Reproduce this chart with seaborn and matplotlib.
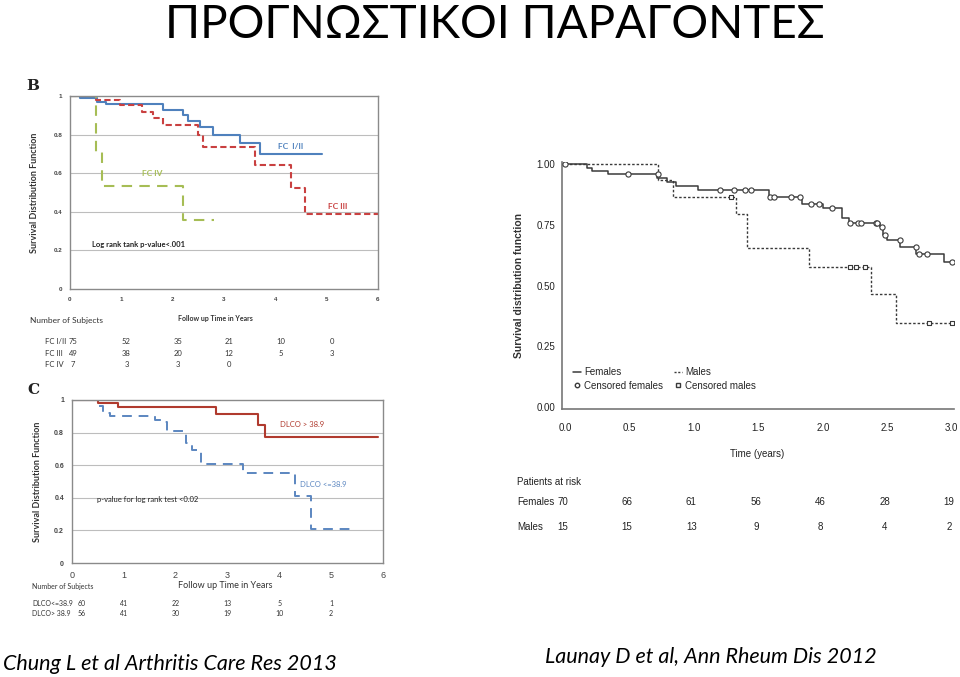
import numpy as np
import pandas as pd
import matplotlib
matplotlib.use("Agg")
import matplotlib.pyplot as plt
import matplotlib.transforms as mtransforms
from matplotlib.lines import Line2D
import seaborn as sns

# ---------------- data ----------------
title_text = "ΠΡΟΓΝΩΣΤΙΚΟΙ ΠΑΡΑΓΟΝΤΕΣ"
caption_left = "Chung L et al Arthritis Care Res 2013"
caption_right = "Launay D et al, Ann Rheum Dis 2012"

# Panel B (functional class)
b_fc12_t = [0, 0.2, 0.52, 0.71, 1.82, 2.2, 2.3, 2.53, 2.79, 3.31, 3.7, 4.9]
b_fc12_s = [1, 0.99, 0.97, 0.957, 0.928, 0.903, 0.871, 0.841, 0.798, 0.759, 0.697, 0.697]
b_fc3_t = [0, 0.5, 0.97, 1.4, 1.62, 1.82, 2.5, 2.6, 3.6, 4.3, 4.58, 6.0]
b_fc3_s = [1, 0.98, 0.955, 0.919, 0.884, 0.85, 0.80, 0.738, 0.643, 0.522, 0.39, 0.39]
b_fc4_t = [0, 0.5, 0.62, 2.2, 2.8]
b_fc4_s = [1, 0.71, 0.535, 0.357, 0.357]
b_groups = ["FC I/II", "FC III", "FC IV"]
b_risk_times = [0, 1, 2, 3, 4, 5]
b_risk = [[75, 52, 35, 21, 10, 0], [49, 38, 20, 12, 5, 3], [7, 3, 3, 0]]
b_yticks = [0, 0.2, 0.4, 0.6, 0.8, 1]
b_yticklabels = ["0", "0.2", "0.4", "0.6", "0.8", "1"]
b_xticks = [0, 1, 2, 3, 4, 5, 6]

# Panel C (DLCO)
c_hi_t = [0, 0.51, 0.9, 2.79, 3.59, 3.72, 5.9]
c_hi_s = [1, 0.98, 0.955, 0.914, 0.846, 0.775, 0.775]
c_lo_t = [0, 0.51, 0.61, 0.74, 1.6, 1.77, 1.83, 2.21, 2.31, 2.5, 3.3, 4.3, 4.62, 5.46]
c_lo_s = [1, 0.965, 0.92, 0.9, 0.877, 0.865, 0.81, 0.734, 0.693, 0.607, 0.553, 0.412, 0.207, 0.207]
c_groups = ["DLCO<=38.9", "DLCO> 38.9"]
c_risk_times = [0, 1, 2, 3, 4, 5]
c_risk = [[60, 41, 22, 13, 5, 1], [56, 41, 30, 19, 10, 2]]

# Right panel (sex)
r_f_t = [0, 0.168, 0.207, 0.336, 0.711, 0.79, 0.86, 1.03, 1.58, 1.84, 2.0, 2.15, 2.2, 2.44, 2.47,
         2.5, 2.6, 2.72, 2.94, 3.0]
r_f_s = [1, 0.986, 0.972, 0.959, 0.945, 0.926, 0.912, 0.895, 0.867, 0.836, 0.82, 0.78, 0.758, 0.74,
         0.708, 0.688, 0.66, 0.632, 0.598, 0.598]
r_m_t = [0, 0.724, 0.84, 1.33, 1.41, 1.89, 2.37, 2.57, 3.0]
r_m_s = [1, 0.935, 0.867, 0.794, 0.653, 0.578, 0.465, 0.344, 0.344]
r_fc_t = [0.0, 0.49, 0.72, 1.2, 1.31, 1.4, 1.44, 1.59, 1.62, 1.75, 1.82, 1.91, 1.97, 2.07, 2.21,
          2.27, 2.3, 2.41, 2.42, 2.46, 2.48, 2.6, 2.72, 2.75, 2.81, 3.0]
r_fc_s = [1.0, 0.959, 0.959, 0.895, 0.895, 0.895, 0.895, 0.867, 0.867, 0.867, 0.867, 0.836, 0.836,
          0.82, 0.758, 0.758, 0.758, 0.758, 0.758, 0.74, 0.708, 0.688, 0.66, 0.632, 0.632, 0.598]
r_mc_t = [1.29, 2.21, 2.26, 2.33, 2.82, 3.0]
r_mc_s = [0.867, 0.578, 0.578, 0.578, 0.344, 0.344]
r_groups = ["Females", "Males"]
r_risk_times = [0, 0.5, 1.0, 1.5, 2.0, 2.5, 3.0]
r_risk = [[70, 66, 61, 56, 46, 28, 19], [15, 15, 13, 9, 8, 4, 2]]
r_yticks = [0, 0.25, 0.5, 0.75, 1.0]
r_yticklabels = ["0.00", "0.25", "0.50", "0.75", "1.00"]
r_xticks = [0, 0.5, 1.0, 1.5, 2.0, 2.5, 3.0]

# ---------------- figure ----------------
sns.set_theme(style="white")
plt.rcParams["font.family"] = ["Lato", "DejaVu Sans"]

W, H = 960, 677
fig = plt.figure(figsize=(W / 100, H / 100), dpi=100)
fig.patch.set_facecolor("white")


def fx(x):
    return x / W


def fy(y):
    return 1 - y / H


def axes_px(l, t, r, b):
    return fig.add_axes([l / W, 1 - b / H, (r - l) / W, (b - t) / H])


def km(ax, t, s, **kw):
    df = pd.DataFrame({"t": t, "s": s})
    sns.lineplot(data=df, x="t", y="s", drawstyle="steps-post", estimator=None,
                 sort=False, legend=False, ax=ax, **kw)


BLUE = "#4f81bd"
RED = "#c94040"
GREEN = "#a6bd55"
DLRED = "#b03a2e"
DLBLUE = "#5b86c0"
FRAME = "#8a8a8a"
SMALL = ["Liberation Sans", "DejaVu Sans"]


def excel_axes(ax, xtick_size, ytick_size, xbold=True):
    ax.set_xlim(0, 6)
    ax.set_ylim(0, 1)
    ax.set_yticks(b_yticks)
    ax.set_yticklabels(b_yticklabels)
    ax.set_xticks(b_xticks)
    ax.set_xlabel("")
    ax.set_ylabel("")
    for y in b_yticks[1:-1]:
        ax.axhline(y, color="#bdbdbd", lw=0.8, zorder=0)
    for sp in ax.spines.values():
        sp.set_color(FRAME)
        sp.set_linewidth(1.0)
    ax.tick_params(axis="both", direction="out", length=2.5, width=0.6, color=FRAME,
                   pad=3, labelcolor="#444444")
    ax.tick_params(axis="x", labelsize=xtick_size)
    ax.tick_params(axis="y", labelsize=ytick_size)
    for lab in ax.get_yticklabels():
        lab.set_fontweight("bold")
        lab.set_family(SMALL)
    for lab in ax.get_xticklabels():
        lab.set_fontweight("bold" if xbold else "normal")
        lab.set_family(SMALL)


# ---------- Panel B ----------
axB = axes_px(70, 96, 378, 289)
km(axB, b_fc12_t, b_fc12_s, color=BLUE, linewidth=1.5)
km(axB, b_fc3_t, b_fc3_s, color=RED, linewidth=1.5, linestyle=(0, (3, 1.6)))
km(axB, b_fc4_t, b_fc4_s, color=GREEN, linewidth=1.5, linestyle=(0, (5, 3.5)))
excel_axes(axB, 4.5, 4.5)
axB.text(4.06, 0.738, "FC  I/II", color=BLUE, fontsize=6, fontweight="bold", va="center")
axB.text(1.4, 0.597, "FC IV", color=GREEN, fontsize=6, fontweight="bold", va="center")
axB.text(5.03, 0.428, "FC III", color=RED, fontsize=6, fontweight="bold", va="center")
axB.text(0.42, 0.229, "Log rank tank p-value<.001", color="#222222", fontsize=5.5,
         fontweight="bold", va="center")
axB.set_ylabel("Survival Distribution Function", fontsize=6.5, fontweight="bold", color="#333333")
axB.yaxis.set_label_coords(-31 / 308, 0.5)
fig.text(fx(26), fy(86), "B", fontsize=11, fontweight="bold", family="DejaVu Serif",
         va="center", ha="left", color="#222222")
fig.text(fx(215), fy(318), "Follow up Time in Years", fontsize=5, fontweight="bold",
         color="#333333", ha="center", va="center")
fig.text(fx(30), fy(320), "Number of Subjects", fontsize=6, color="#333333",
         ha="left", va="center")
trB = mtransforms.blended_transform_factory(axB.transData, fig.transFigure)
b_rows_y = [341.7, 353.3, 364.3]
for g, row, yy in zip(b_groups, b_risk, b_rows_y):
    fig.text(fx(45), fy(yy), g, fontsize=5.5, color="#333333", ha="left", va="center")
    for t, v in zip(b_risk_times, row):
        axB.text(t + (0.06 if t == 0 else 0.1), fy(yy), str(v), transform=trB, fontsize=5.5,
                 color="#333333", ha="center", va="center", clip_on=False)

# ---------- Panel C ----------
axC = axes_px(71.7, 400, 383, 563)
km(axC, c_hi_t, c_hi_s, color=DLRED, linewidth=1.5)
km(axC, c_lo_t, c_lo_s, color=DLBLUE, linewidth=1.4, linestyle=(0, (5, 3.5)))
excel_axes(axC, 6.5, 5, xbold=False)
axC.text(4.01, 0.847, "DLCO > 38.9", color=DLRED, fontsize=5.5, va="center")
axC.text(4.4, 0.479, "DLCO <=38.9", color=DLBLUE, fontsize=5.5, va="center")
axC.text(0.48, 0.389, "p-value for log rank test <0.02", color="#222222", fontsize=5.5,
         va="center")
axC.set_ylabel("Survival Distribution Function", fontsize=6.5, fontweight="bold", color="#333333")
axC.yaxis.set_label_coords(-30 / 311, 0.5)
fig.text(fx(27), fy(390), "C", fontsize=11, fontweight="bold", family="DejaVu Serif",
         va="center", ha="left", color="#222222")
fig.text(fx(225), fy(585), "Follow up Time in Years", fontsize=6.5, color="#333333",
         ha="center", va="center")
fig.text(fx(32), fy(586), "Number of Subjects", fontsize=5, color="#333333",
         ha="left", va="center")
trC = mtransforms.blended_transform_factory(axC.transData, fig.transFigure)
c_rows_y = [603.3, 613.3]
for g, row, yy in zip(c_groups, c_risk, c_rows_y):
    fig.text(fx(32), fy(yy), g, fontsize=5, color="#333333", ha="left", va="center")
    for t, v in zip(c_risk_times, row):
        axC.text(t + (0.19 if t == 0 else 0.0), fy(yy), str(v), transform=trC, fontsize=5,
                 color="#333333", ha="center", va="center", clip_on=False)

# ---------- Right panel ----------
NARROW = ["Liberation Sans Narrow", "Liberation Sans", "DejaVu Sans"]
RFS = 7
DARK = "#3a3a3a"
axR = axes_px(562.4, 161.9, 954.3, 409.1)
km(axR, r_f_t, r_f_s, color=DARK, linewidth=1.1)
km(axR, r_m_t, r_m_s, color=DARK, linewidth=1.0, linestyle=(0, (1.8, 1.4)))
sns.scatterplot(x=r_fc_t, y=r_fc_s, marker="o", s=14, facecolor="white", edgecolor=DARK,
                linewidth=0.8, ax=axR, zorder=5, legend=False)
sns.scatterplot(x=r_mc_t, y=r_mc_s, marker="s", s=12, facecolor="white", edgecolor=DARK,
                linewidth=0.8, ax=axR, zorder=5, legend=False)
axR.set_xlim(-0.02, 3.02)
axR.set_ylim(-0.01, 1.01)
axR.set_xticks(r_xticks)
axR.set_xticklabels([f"{v:.1f}" for v in r_xticks])
axR.set_yticks(r_yticks)
axR.set_yticklabels(r_yticklabels)
axR.set_xlabel("")
axR.set_ylabel("")
for k in ["top", "right"]:
    axR.spines[k].set_visible(False)
for k in ["left", "bottom"]:
    axR.spines[k].set_color("#777777")
    axR.spines[k].set_linewidth(1.2)
axR.tick_params(axis="both", direction="out", length=3, width=0.8, color="#777777",
                labelsize=RFS, labelcolor="#222222", pad=2)
axR.tick_params(axis="x", pad=7)
for lab in axR.get_xticklabels() + axR.get_yticklabels():
    lab.set_family(NARROW)
axR.set_ylabel("Survival distribution function", fontsize=7.5, fontweight="bold",
               color="#333333", family=NARROW)
axR.yaxis.set_label_coords(-38 / 392, 0.5)
handles = [Line2D([], [], color=DARK, lw=1.1),
           Line2D([], [], color="none", marker="o", markersize=3.2, markerfacecolor="white",
                  markeredgecolor=DARK),
           Line2D([], [], color=DARK, lw=1.0, ls=(0, (1.5, 1.2))),
           Line2D([], [], color="none", marker="s", markersize=3.0, markerfacecolor="white",
                  markeredgecolor=DARK)]
labels = ["Females", "Censored females", "Males", "Censored males"]
leg = axR.legend(handles, labels, ncol=2, loc="lower left", bbox_to_anchor=(0.027, 0.075),
                 borderaxespad=0, borderpad=0, frameon=False, handlelength=0.8,
                 handletextpad=0.35, columnspacing=1.1, labelspacing=0.35,
                 prop={"family": NARROW, "size": RFS})
fig.text(fx(757), fy(454), "Time (years)", fontsize=RFS, family=NARROW, color="#222222",
         ha="center", va="center")
fig.text(fx(517), fy(482), "Patients at risk", fontsize=RFS, family=NARROW, color="#222222",
         ha="left", va="center")
trR = mtransforms.blended_transform_factory(axR.transData, fig.transFigure)
r_rows_y = [502, 527]
for g, row, yy in zip(r_groups, r_risk, r_rows_y):
    fig.text(fx(517), fy(yy), g, fontsize=RFS, family=NARROW, color="#222222",
             ha="left", va="center")
    for t, v in zip(r_risk_times, row):
        axR.text(t - 0.02, fy(yy), str(v), transform=trR, fontsize=RFS, family=NARROW,
                 color="#222222", ha="center", va="center", clip_on=False)

# ---------- title and captions ----------
fig.text(fx(495), fy(38), title_text, fontsize=33, color="#000000", ha="center",
         va="baseline")
fig.text(fx(3), fy(670), caption_left, fontsize=15.5, style="italic", color="#000000",
         ha="left", va="baseline")
fig.text(fx(545), fy(663), caption_right, fontsize=15.5, style="italic", color="#000000",
         ha="left", va="baseline")

fig.savefig("out.png", dpi=100, facecolor="white")
